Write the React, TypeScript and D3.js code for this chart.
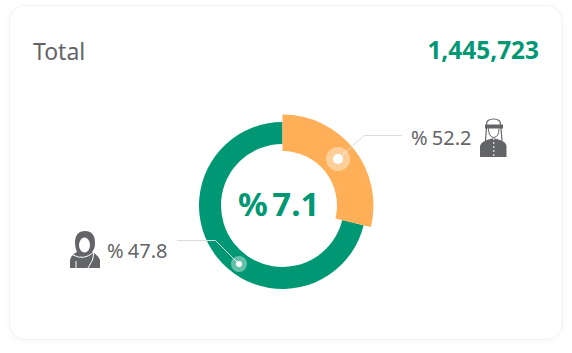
import React from "react";
import * as d3 from "d3";

const shareLabels = ["% 52.2", "% 47.8"];
const arcShares = [28.8, 71.2];
const arcColors = ["#ffaf57", "#009874"];
const titleText = "Total";
const totalText = "1,445,723";
const centerText = "% 7.1";

const W = 572, H = 353, CX = 282.5, CY = 205.5;
const INK = "#636468";

export default function App() {
  const pie = d3.pie<number>().sort(null)(arcShares);
  const orangeArc = d3.arc<any>().innerRadius(54.5).outerRadius(91);
  const greenArc = d3.arc<any>().innerRadius(61.5).outerRadius(83.5);
  return (
    <svg width={W} height={H} style={{ position: "absolute", left: 0, top: 0 }} fontFamily="'Noto Sans', sans-serif">
      <defs>
        <filter id="s" x="-5%" y="-5%" width="110%" height="110%">
          <feDropShadow dx="0" dy="1" stdDeviation="3" floodColor="#000" floodOpacity="0.03" />
        </filter>
      </defs>
      <rect x={9.5} y={5.5} width={552.5} height={334} rx={15} fill="#fff" stroke="#f1f1f3" filter="url(#s)" />
      <text x={33} y={60} fontSize={23} fill={INK}>{titleText}</text>
      <text x={539} y={59} fontSize={24.4} fontWeight={700} fill="#009874" textAnchor="end">{totalText}</text>
      <g transform={`translate(${CX},${CY})`}>
        <path d={greenArc(pie[1]) as string} fill={arcColors[1]} />
        <path d={orangeArc(pie[0]) as string} fill={arcColors[0]} />
      </g>
      <text x={238} y={216} fontSize={33} fontWeight={700} fill="#009874" wordSpacing={-4}>{centerText}</text>
      <polyline points="338,159 364,135.5 402,135.5" fill="none" stroke="#dcdcdc" />
      <polyline points="239,264 215.5,240.5 177,240.5" fill="none" stroke="#dcdcdc" />
      <circle cx={338} cy={159} r={12} fill="#fff" opacity={0.4} />
      <circle cx={338} cy={159} r={5} fill="#fff" />
      <circle cx={239} cy={264} r={8} fill="#fff" opacity={0.4} />
      <circle cx={239} cy={264} r={3} fill="#fff" />
      <text x={411} y={145} fontSize={20} fill={INK} wordSpacing={-1}>{shareLabels[0]}</text>
      <text x={107} y={258} fontSize={20} fill={INK} wordSpacing={-1}>{shareLabels[1]}</text>

      {/* male icon */}
      <g>
        <path d="M480 157 V146 Q481 142 487 140 L493.5 138 L500 140 Q506 142 506.5 146 V157 Z" fill={INK} />
        <path d="M486.5 125 Q486 119 493.5 119 Q501 119 500.5 125" fill="none" stroke={INK} strokeWidth={1.2} />
        <rect x={485} y={124.5} width={18} height={4} fill={INK} />
        <path d="M486.5 128 L485.5 141 M501 128 L502 141" stroke={INK} strokeWidth={1.2} fill="none" />
        <path d="M488.5 128.5 Q488.5 137 493.8 137.5 Q499 137 499 128.5" fill="none" stroke={INK} strokeWidth={1} />
        <path d="M493.8 138 V157" stroke="#fff" strokeWidth={1} strokeDasharray="2 2" />
      </g>

      {/* female icon */}
      <g>
        <path d="M70 268 V260 Q71 255 77 252 Q75 248 75 243 Q75 231 85 231 Q95 231 95 243 Q95 249 92 252 Q98 255 100 260 V268 Z" fill={INK} />
        <ellipse cx={84.5} cy={245} rx={5.5} ry={7.5} fill="#fff" />
        <path d="M73 255 Q84 261 94 252" fill="none" stroke="#fff" strokeWidth={1} />
        <path d="M94 252 Q94 260 88 268" fill="none" stroke="#fff" strokeWidth={1} />
        <path d="M76 261 V268" stroke="#fff" strokeWidth={1} />
      </g>
    </svg>
  );
}
